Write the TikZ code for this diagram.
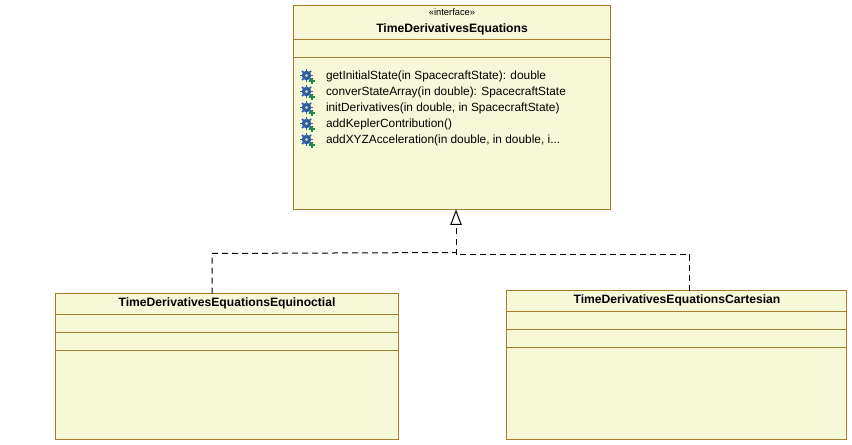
\documentclass[tikz,border=0pt]{standalone}
\usepackage{fontspec}
\setmainfont{Liberation Sans}
\usetikzlibrary{arrows.meta}
\definecolor{boxfill}{HTML}{F7F8D8}
\definecolor{boxline}{HTML}{A67C2D}
\definecolor{gearblue}{HTML}{2F5F9E}
\definecolor{plusgreen}{HTML}{1E8A4A}

\begin{document}
\begin{tikzpicture}[x=0.75pt,y=-0.75pt]
\tikzstyle{every node}=[inner sep=0pt, outer sep=0pt]
\tikzstyle{compart}=[draw=boxline, fill=boxfill, line width=0.75pt, anchor=north west]
\tikzstyle{title}=[font=\fontsize{9.1}{10}\selectfont\bfseries]
\tikzstyle{oplabel}=[font=\fontsize{8.9}{10}\selectfont, anchor=base west]
\tikzstyle{dep}=[draw, dashed, line width=0.75pt, dash pattern=on 4.5pt off 3pt]
\tikzset{opgear/.pic={
  \foreach \a in {0,45,...,315}
    \draw[gearblue, line width=1.1pt] (0,0) -- (\a:6.4);
  \fill[gearblue] (0,0) circle[radius=4.8];
  \fill[boxfill!70!gearblue] (0,0) circle[radius=1.7];
  \draw[plusgreen, line width=0.9pt] (2.6,5.5) -- (8.2,5.5) (5.4,2.7) -- (5.4,8.3);
}}
\useasboundingbox (0,0) rectangle (852,445);

% interface
\node[compart, minimum width=317*0.75pt, minimum height=34*0.75pt] at (293.5,5.5) (ifacehead) {};
\node[compart, minimum width=317*0.75pt, minimum height=18*0.75pt] at (293.5,39.5) (ifaceattr) {};
\node[compart, minimum width=317*0.75pt, minimum height=152*0.75pt] at (293.5,57.5) (ifaceops) {};
\node[font=\fontsize{7}{8}\selectfont] at (452,12.5) (stereo) {«interface»};
\node[title] at (452,29.5) (ifacename) {TimeDerivativesEquations};

\foreach \i/\ypos/\optext in {
  1/80/{getInitialState(in SpacecraftState): double},
  2/96/{converStateArray(in double): SpacecraftState},
  3/112/{initDerivatives(in double, in SpacecraftState)},
  4/128/{addKeplerContribution()},
  5/144/{addXYZAcceleration(in double, in double, i...}}
{
  \pic at (306.5,\ypos-4.5) {opgear};
  \node[oplabel] at (326,\ypos) (op\i) {\optext};
}

% equinoctial
\node[compart, minimum width=343*0.75pt, minimum height=21*0.75pt] at (55.5,293.5) (equihead) {};
\node[compart, minimum width=343*0.75pt, minimum height=18*0.75pt] at (55.5,314.5) (equiattr) {};
\node[compart, minimum width=343*0.75pt, minimum height=18*0.75pt] at (55.5,332.5) (equimid) {};
\node[compart, minimum width=343*0.75pt, minimum height=89*0.75pt] at (55.5,350.5) (equiops) {};
\node[title] at (227,303) (equiname) {TimeDerivativesEquationsEquinoctial};

% cartesian
\node[compart, minimum width=340*0.75pt, minimum height=21*0.75pt] at (506.5,290.5) (carthead) {};
\node[compart, minimum width=340*0.75pt, minimum height=18*0.75pt] at (506.5,311.5) (cartattr) {};
\node[compart, minimum width=340*0.75pt, minimum height=18*0.75pt] at (506.5,329.5) (cartmid) {};
\node[compart, minimum width=340*0.75pt, minimum height=92*0.75pt] at (506.5,347.5) (cartops) {};
\node[title] at (677,300) (cartname) {TimeDerivativesEquationsCartesian};

\coordinate (forkleft) at (456,252.5);
\coordinate (forkright) at (456,254.5);
\coordinate (bendleft) at (212,253.5);
\coordinate (bendright) at (689.5,254.5);

\draw[dep] (equihead.north -| bendleft) -- (bendleft) -- (forkleft);
\draw[dep] (carthead.north -| bendright) -- (bendright) -- (forkright);
\draw[dep, -{Triangle[open, length=11.5pt, width=8.5pt, line width=0.75pt, fill=white]}] (forkright) -- (ifaceops.south -| forkright);
\end{tikzpicture}
\end{document}
